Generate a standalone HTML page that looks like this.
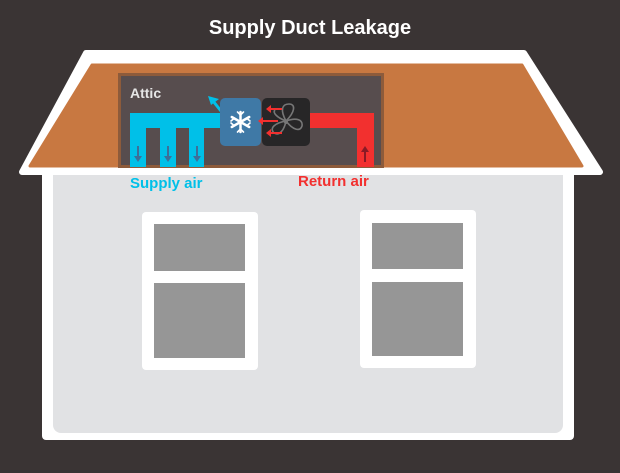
<!DOCTYPE html>
<html><head><style>
html,body{margin:0;padding:0;background:#3a3434;}
svg{display:block}
</style></head><body>
<svg width="620" height="473" viewBox="0 0 620 473" xmlns="http://www.w3.org/2000/svg" font-family="Liberation Sans, sans-serif">
<rect width="620" height="473" fill="#3a3434"/>
<text x="310" y="34" text-anchor="middle" font-size="20" font-weight="bold" fill="#fff">Supply Duct Leakage</text>
<!-- house body -->
<rect x="42" y="160" width="532" height="280" rx="4" fill="#fff"/>
<rect x="53" y="160" width="510" height="273" rx="8" fill="#e1e2e4"/>
<!-- roof -->
<path d="M86,53 L524,53 L600,172 L22,172 Z" fill="#fff" stroke="#fff" stroke-width="6" stroke-linejoin="round"/>
<path d="M92,65 L522,65 L582,166 L30,166 Z" fill="#c87841" stroke="#c87841" stroke-width="3" stroke-linejoin="round"/>
<!-- attic -->
<rect x="119.5" y="74.5" width="263" height="92" fill="#574d4e" stroke="#8d5b3b" stroke-width="3"/>
<text x="130" y="98" font-size="14" font-weight="bold" fill="#e6e6e6">Attic</text>
<!-- supply duct -->
<path d="M130,113 H222 V128 H204 V167 H189 V128 H176 V167 H160 V128 H146 V167 H130 Z" fill="#00c0e8"/>
<g stroke="#3d6f99" stroke-width="2" fill="#3d6f99">
<line x1="138" y1="146" x2="138" y2="160"/><path d="M134,156 L138,162 L142,156 Z" stroke="none"/>
<line x1="168" y1="146" x2="168" y2="160"/><path d="M164,156 L168,162 L172,156 Z" stroke="none"/>
<line x1="197" y1="146" x2="197" y2="160"/><path d="M193,156 L197,162 L201,156 Z" stroke="none"/>
</g>
<line x1="221" y1="111" x2="213" y2="101" stroke="#00c0e8" stroke-width="3"/>
<path d="M208,96 L219,99 L211,105 Z" fill="#00c0e8"/>
<!-- return duct -->
<path d="M308,113 H374 V167 H357 V128 H308 Z" fill="#f2302f"/>
<line x1="365" y1="162" x2="365" y2="150" stroke="#8a1a25" stroke-width="2"/>
<path d="M361,152 L365,146 L369,152 Z" fill="#8a1a25"/>
<!-- coil box -->
<rect x="220" y="98" width="41" height="48" rx="5" fill="#3f79a6"/>
<g stroke="#fff" stroke-width="2.5" stroke-linecap="round">
<line x1="240.5" y1="112" x2="240.5" y2="132"/>
<line x1="231.8" y1="117" x2="249.2" y2="127"/>
<line x1="231.8" y1="127" x2="249.2" y2="117"/>
</g>
<g stroke="#fff" stroke-width="1.6" fill="none" stroke-linecap="round">
<path d="M237.5,112 L240.5,115 L243.5,112"/>
<path d="M237.5,132 L240.5,129 L243.5,132"/>
<path d="M231,121 L234,118.5 M231,123 L234,125.5"/>
<path d="M250,121 L247,118.5 M250,123 L247,125.5"/>
</g>
<!-- fan box -->
<rect x="262" y="98" width="48" height="48" rx="5" fill="#272627"/>
<g fill="none" stroke="#777" stroke-width="1.6">
<path d="M286,121 C280,110 282,104 289,104 C296,104 295,112 286,121"/>
<path d="M286,121 C297,117 303,120 302,126 C300,132 293,130 286,121"/>
<path d="M286,121 C284,131 279,136 274,133 C269,128 275,123 286,121"/>
<path d="M286,121 C278,118 272,113 275,110"/>
</g>
<circle cx="286" cy="122" r="2" fill="#777"/>
<g fill="#f2302f" stroke="#f2302f" stroke-width="2">
<line x1="282" y1="109" x2="270" y2="109"/><path d="M266,109 L271,105 L271,113 Z" stroke="none"/>
<line x1="278" y1="121" x2="262" y2="121"/><path d="M258,121 L263,117 L263,125 Z" stroke="none"/>
<line x1="282" y1="133" x2="270" y2="133"/><path d="M266,133 L271,129 L271,137 Z" stroke="none"/>
</g>
<!-- labels -->
<text x="130" y="188" font-size="15" font-weight="bold" fill="#00c0e8">Supply air</text>
<text x="298" y="186" font-size="15" font-weight="bold" fill="#f2302f">Return air</text>
<!-- windows -->
<rect x="142" y="212" width="116" height="158" rx="4" fill="#fff"/>
<rect x="154" y="224" width="91" height="47" fill="#969696"/>
<rect x="154" y="283" width="91" height="75" fill="#969696"/>
<rect x="360" y="210" width="116" height="158" rx="4" fill="#fff"/>
<rect x="372" y="223" width="91" height="46" fill="#969696"/>
<rect x="372" y="282" width="91" height="74" fill="#969696"/>
</svg>
</body></html>
